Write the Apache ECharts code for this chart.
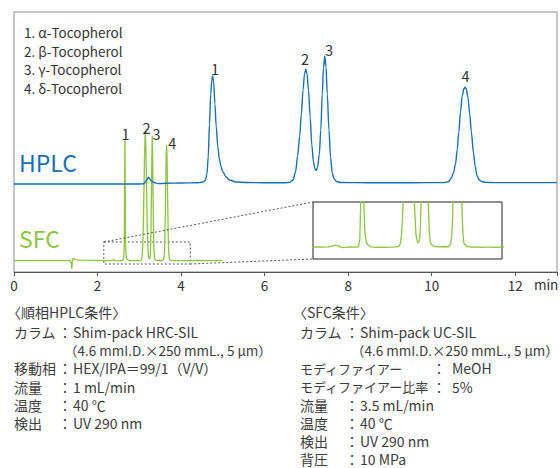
<!DOCTYPE html>
<html><head><meta charset="utf-8">
<script src="https://cdn.jsdelivr.net/npm/echarts@6/dist/echarts.min.js"></script>
<style>html,body{margin:0;padding:0;background:#fff}#c{width:560px;height:468px}</style>
</head><body><div id="c"></div>
<script>
// ---- data ----
const xTickValues = [0, 2, 4, 6, 8, 10, 12];
const highlightedTicks = [4, 12];
const timeUnit = 'min';
const compounds = ['1. α-Tocopherol', '2. β-Tocopherol', '3. γ-Tocopherol', '4. δ-Tocopherol'];
const traceNames = ['HPLC', 'SFC'];

// HPLC chromatogram [time(min), signal]
const hplcTrace = [[0,88],[0.5,88],[1,88],[1.5,88],[2,88],[2.5,88],[3.0,88],[3.11,88.2],[3.17,91.5],[3.22,94.7],[3.27,92],[3.33,89.7],[3.45,88.4],[3.64,88.7],[4.0,89],[4.4,89.2],[4.52,90],[4.58,91.5],[4.62,98],[4.65,115],[4.68,148],[4.71,178],[4.735,192],[4.756,196],[4.78,190],[4.81,168],[4.84,146],[4.88,125],[4.92,112],[4.96,105],[5.0,100],[5.08,95],[5.16,92],[5.31,90],[5.6,89.5],[6.0,89.3],[6.5,89.3],[6.6,89.6],[6.68,92],[6.74,100],[6.79,116],[6.84,136],[6.88,158],[6.92,182],[6.955,198],[6.985,202.7],[7.015,198],[7.05,182],[7.09,155],[7.13,127],[7.17,110],[7.205,103],[7.235,101.5],[7.27,105],[7.31,118],[7.345,142],[7.38,178],[7.41,204],[7.44,216],[7.47,205],[7.50,178],[7.54,142],[7.58,114],[7.62,99],[7.66,93.5],[7.72,90.5],[7.82,89.5],[8.5,89.3],[9.5,89.3],[10.3,89.4],[10.4,90.3],[10.47,94],[10.52,99],[10.57,108],[10.61,122],[10.65,140],[10.69,160],[10.73,176],[10.77,183],[10.80,184.7],[10.83,183],[10.87,174],[10.91,158],[10.95,140],[11.0,119],[11.04,106],[11.08,97],[11.13,92.5],[11.2,90.3],[11.3,89.6],[11.5,89.4],[12.2,89.4],[13,89.4]];

// SFC chromatogram [time(min), signal]
const sfcTrace = [[0,11.3],[0.4,11.4],[0.8,11.3],[1.2,11.4],[1.35,11.4],[1.37,9],[1.384,3],[1.395,10],[1.41,13],[1.43,13.7],[1.46,12.3],[1.55,11.8],[1.8,11.6],[2.0,11.5],[2.1,11.5],[2.15,11.4],[2.2,11.5],[2.25,11.4],[2.3,11.5],[2.34,11.7],[2.37,12.1],[2.4,11.9],[2.43,11.4],[2.46,11.2],[2.5,11.4],[2.55,11.5],[2.6,11.4],[2.616,11.6],[2.63,14],[2.64,28],[2.648,85],[2.656,132],[2.664,85],[2.672,28],[2.685,16.5],[2.70,12.9],[2.725,11.9],[2.75,11.5],[2.8,11.3],[2.85,11.4],[2.9,11.3],[2.95,11.4],[3.0,11.5],[3.035,11.6],[3.053,12.5],[3.068,16],[3.083,26.6],[3.098,50],[3.113,86.5],[3.128,123.5],[3.143,140],[3.158,123.5],[3.173,86.5],[3.188,50],[3.203,26.6],[3.218,16.2],[3.236,12.9],[3.252,13.4],[3.262,16],[3.272,27],[3.282,48],[3.292,84],[3.301,118],[3.31,136],[3.319,118],[3.328,84],[3.338,48],[3.348,27],[3.358,17],[3.37,13],[3.39,11.9],[3.42,11.6],[3.47,11.5],[3.52,11.6],[3.56,11.5],[3.583,12.6],[3.593,15.3],[3.603,22.3],[3.613,37],[3.623,60.5],[3.633,90.5],[3.643,116.5],[3.653,127],[3.663,116.5],[3.673,90.5],[3.683,60.5],[3.693,37],[3.703,22.3],[3.713,15.3],[3.723,12.6],[3.75,11.7],[3.8,11.4],[3.85,11.5],[3.9,11.3],[3.95,11.4],[4.0,11.4],[4.05,11.3],[4.1,11.4],[4.2,11.4],[4.4,11.5],[4.7,11.4],[4.99,11.5]];

// peak number labels [text, time, signal]
const hplcPeakLabels = [['1',4.81,204],['2',6.97,214],['3',7.54,223],['4',10.81,197]];
const sfcPeakLabels = [['1',2.67,139],['2',3.17,145],['3',3.41,139],['4',3.79,130]];
// anchor of the trace names [time, signal]
const traceNameAnchors = [[0.12, 99], [0.12, 23]];

// zoom window on the SFC trace and the inset's ranges
const zoomWindowTime = [2.15, 4.22];
const zoomWindowSignal = [8, 30];
const insetTime = [2.14, 4.12];
const insetSignal = [7, 28];

// conditions text
const hplcConditionsTitle = '〈順相HPLC条件〉';
const hplcConditions = [['カラム','Shim-pack HRC-SIL'],['','（4.6 mmI.D.×250 mmL., 5 μm）'],['移動相','HEX/IPA＝99/1（V/V）'],['流量','1 mL/min'],['温度','40 ℃'],['検出','UV 290 nm']];
const sfcConditionsTitle = '〈SFC条件〉';
const sfcConditions = [['カラム','Shim-pack UC-SIL'],['','（4.6 mmI.D.×250 mmL., 5 μm）'],['モディファイアー','MeOH'],['モディファイアー比率','5%'],['流量','3.5 mL/min'],['温度','40 ℃'],['検出','UV 290 nm'],['背圧','10 MPa']];

// ---- chart ----
const FONT = '"Noto Sans CJK JP", "Noto Sans", sans-serif';
const BLUE = '#1670b9';
const GREEN = '#8cc63f';
const TEXT = '#3c3c3c';

const chart = echarts.init(document.getElementById('c'), null, {renderer: 'svg'});

const option = {
  animation: false,
  backgroundColor: '#fff',
  grid: [
    {left: 14, top: 12, right: 2, bottom: 196, show: true, borderColor: '#8c8c8c', borderWidth: 1, containLabel: false},
    {left: 313, top: 202, width: 189, height: 57, show: true, borderColor: '#222', borderWidth: 1, backgroundColor: '#fff', z: 5}
  ],
  xAxis: [
    {gridIndex: 0, type: 'value', min: 0, max: 13, interval: 2,
     axisLine: {show: true, onZero: false, lineStyle: {color: '#555', width: 1}},
     axisTick: {show: true, length: 4, lineStyle: {color: '#555'}},
     splitLine: {show: false},
     axisLabel: {margin: 6, fontSize: 13.5, fontFamily: FONT,
       color: v => highlightedTicks.indexOf(v) >= 0 ? '#e94450' : '#333',
       formatter: v => xTickValues.indexOf(v) >= 0 ? String(v) : ''}},
    {gridIndex: 1, type: 'value', min: insetTime[0], max: insetTime[1], show: false}
  ],
  yAxis: [
    {gridIndex: 0, type: 'value', min: 0, max: 260, show: false, splitLine: {show: false}},
    {gridIndex: 1, type: 'value', min: insetSignal[0], max: insetSignal[1], show: false, splitLine: {show: false}}
  ],
  series: [
    {name: 'SFC', type: 'line', xAxisIndex: 0, yAxisIndex: 0, data: sfcTrace, showSymbol: false, clip: true,
     lineStyle: {color: GREEN, width: 1.3}, z: 2,
     markArea: {silent: true, itemStyle: {color: 'rgba(0,0,0,0)', borderColor: '#555', borderWidth: 1, borderType: [2, 2]},
       data: [[{coord: [zoomWindowTime[0], zoomWindowSignal[1]]}, {coord: [zoomWindowTime[1], zoomWindowSignal[0]]}]]}},
    {name: 'HPLC', type: 'line', xAxisIndex: 0, yAxisIndex: 0, data: hplcTrace, showSymbol: false, clip: true,
     smooth: 0.3, smoothMonotone: 'x', lineStyle: {color: BLUE, width: 1.4}, z: 3},
    {name: 'SFC inset', type: 'line', xAxisIndex: 1, yAxisIndex: 1, data: sfcTrace, showSymbol: false, clip: true,
     lineStyle: {color: GREEN, width: 1.3}, z: 6}
  ]
};
chart.setOption(option);

const toPx = (g, t, v) => chart.convertToPixel({gridIndex: g}, [t, v]);
const graphics = [];
const txt = (text, x, y, size, color, align) => graphics.push({type: 'text', z: 20,
  style: {text, x, y, fill: color, font: size + 'px ' + FONT, textAlign: align || 'left', textVerticalAlign: 'middle'}});

// compound legend
compounds.forEach((c, i) => txt(c, 24, 32 + i * 18.7, 13.5, '#333'));
// trace names
traceNames.forEach((n, i) => {
  const p = toPx(0, traceNameAnchors[i][0], traceNameAnchors[i][1]);
  graphics.push({type: 'text', z: 20, style: {text: n, x: p[0], y: p[1], fill: i === 0 ? BLUE : GREEN,
    font: '23px ' + FONT, textAlign: 'left', textVerticalAlign: 'bottom'}});
});
// peak labels
hplcPeakLabels.concat(sfcPeakLabels).forEach(l => {
  const p = toPx(0, l[1], l[2]);
  txt(l[0], p[0], p[1], 14.5, '#333', 'center');
});
// time unit
const pu = toPx(0, 12.74, 0);
txt(timeUnit, pu[0], pu[1] + 12, 13.5, '#333', 'center');

// connector lines from zoom window to inset
const zTL = toPx(0, zoomWindowTime[0], zoomWindowSignal[1]);
const zBR = toPx(0, zoomWindowTime[1], zoomWindowSignal[0]);
const iTL = toPx(1, insetTime[0], insetSignal[1]);
const iBL = toPx(1, insetTime[0], insetSignal[0]);
[[zTL, iTL], [zBR, iBL]].forEach(s => graphics.push({type: 'line', z: 4, silent: true,
  shape: {x1: s[0][0], y1: s[0][1], x2: s[1][0], y2: s[1][1]},
  style: {stroke: '#555', lineWidth: 1, lineDash: [2, 2]}}));

// conditions
const LH = 18.2;
const ROW0 = 332;
txt(hplcConditionsTitle, 7, 312, 14, TEXT);
hplcConditions.forEach((r, i) => {
  const y = ROW0 + i * LH;
  if (r[0]) { txt(r[0], 14, y, 14, TEXT); txt('：', 58, y, 14, TEXT); txt(r[1], 73, y, 14, TEXT); }
  else txt(r[1], 64, y, 13.5, TEXT);
});
txt(sfcConditionsTitle, 293, 312, 14, TEXT);
sfcConditions.forEach((r, i) => {
  const y = ROW0 + i * LH;
  const longLabel = r[0].length > 4;
  if (r[0]) {
    txt(r[0], 300, y, longLabel ? 13 : 14, TEXT);
    txt('：', longLabel ? 432 : 345, y, 14, TEXT);
    txt(r[1], longLabel ? 452 : 360, y, 14, TEXT);
  } else txt(r[1], 351, y, 13.5, TEXT);
});

chart.setOption({graphic: graphics});
</script></body></html>
